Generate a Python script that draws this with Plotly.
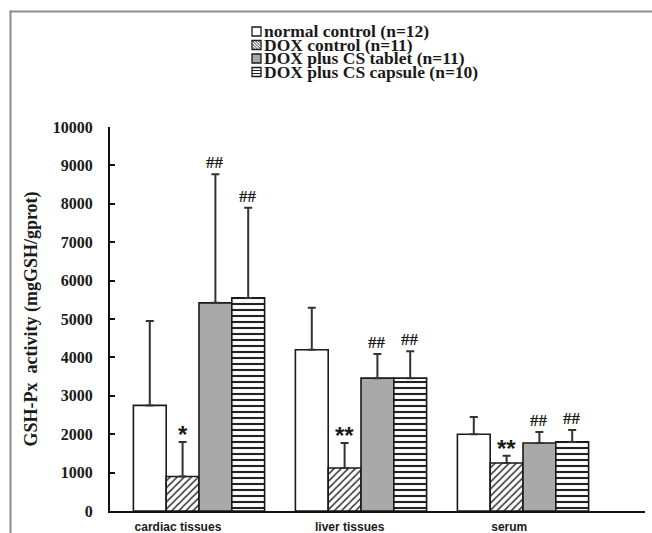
import plotly.graph_objects as go

# ---------------- data ----------------
categories = ["cardiac tissues", "liver tissues", "serum"]
series_names = ["normal control (n=12)", "DOX control (n=11)",
                "DOX plus CS tablet (n=11)", "DOX plus CS capsule (n=10)"]
normal_mean = [2750, 4200, 2000]
normal_err = [2200, 1090, 450]
dox_mean = [900, 1120, 1250]
dox_err = [900, 650, 190]
tablet_mean = [5420, 3460, 1770]
tablet_err = [3350, 630, 290]
capsule_mean = [5550, 3460, 1800]
capsule_err = [2350, 700, 310]
normal_sig = ["", "", ""]
dox_sig = ["*", "**", "**"]
tablet_sig = ["##", "##", "##"]
capsule_sig = ["##", "##", "##"]
y_ticks = [0, 1000, 2000, 3000, 4000, 5000, 6000, 7000, 8000, 9000, 10000]
y_ticktext = [str(v) for v in y_ticks]

means = [normal_mean, dox_mean, tablet_mean, capsule_mean]
errs = [normal_err, dox_err, tablet_err, capsule_err]
sigs = [normal_sig, dox_sig, tablet_sig, capsule_sig]

# ---------------- styles ----------------
DARK = "#1a1a1a"
styles = [
    dict(color="white", pattern=None),
    dict(color="white", pattern=dict(shape="/", fgcolor="#333333", bgcolor="white",
                                     size=5, solidity=0.3, fillmode="replace")),
    dict(color="#a9a9a9", pattern=None),
    dict(color="white", pattern=dict(shape="-", fgcolor="#222222", bgcolor="white",
                                     size=6, solidity=0.35, fillmode="replace")),
]

x = list(range(len(categories)))
BARGAP = 0.19
nser = len(series_names)
bw = (1 - BARGAP) / nser

fig = go.Figure()
for i in range(nser):
    marker = dict(color=styles[i]["color"], line=dict(color=DARK, width=1.6))
    if styles[i]["pattern"] is not None:
        marker["pattern"] = styles[i]["pattern"]
    fig.add_trace(go.Bar(
        x=x, y=means[i], name=series_names[i], marker=marker,
        error_y=dict(type="data", array=errs[i], arrayminus=[0] * len(x),
                     symmetric=False, color="#333333", thickness=2, width=4),
        showlegend=False,
    ))

# significance marks
annotations = []
for i in range(nser):
    for j in range(len(categories)):
        s = sigs[i][j]
        if not s:
            continue
        xpos = j + (i - (nser - 1) / 2) * bw
        if "*" in s:
            font = dict(family="Liberation Sans", size=24, color=DARK, weight="bold")
            ysh = -8
        else:
            font = dict(family="Liberation Serif", size=17, color=DARK, weight="bold")
            ysh = 0
        annotations.append(dict(x=xpos, y=means[i][j] + errs[i][j], xref="x", yref="y",
                                text=s, showarrow=False, yanchor="bottom", xanchor="center",
                                yshift=ysh, font=font))

# pixel -> paper helpers for layout decoration
PL, PR, PT, PB = 110, 645, 127, 511
W, H = 652, 533


def fx(px):
    return (px - PL) / (PR - PL)


def fy(py):
    return (PB - py) / (PB - PT)


FRAME = "#8c8c8c"
shapes = []
# outer frame strips (top and left), drawn as thin filled rectangles
shapes.append(dict(type="rect", xref="paper", yref="paper", x0=fx(9.5), x1=fx(W),
                   y0=fy(12.5), y1=fy(10.5), fillcolor=FRAME, line=dict(width=0)))
shapes.append(dict(type="rect", xref="paper", yref="paper", x0=fx(9.5), x1=fx(11.5),
                   y0=fy(H), y1=fy(10.5), fillcolor=FRAME, line=dict(width=0)))

# custom legend (icons as shapes, labels in one multi-line text)
ROW0, ROWSTEP = 31.5, 13.5
IL, ISZ = 252, 9
for k in range(nser):
    cy = ROW0 + k * ROWSTEP
    T = cy - ISZ / 2
    B = cy + ISZ / 2
    L, R = IL, IL + ISZ
    shapes.append(dict(type="rect", xref="paper", yref="paper", x0=fx(L), x1=fx(R),
                       y0=fy(B), y1=fy(T), fillcolor=styles[k]["color"],
                       line=dict(color=DARK, width=1.3)))
    pat = styles[k]["pattern"]
    if pat is not None and pat["shape"] == "/":
        for d in [3, 6, 9, 12, 15]:
            u1, u2 = max(0, d - ISZ), min(d, ISZ)
            shapes.append(dict(type="line", xref="paper", yref="paper",
                               x0=fx(L + u1), y0=fy(B - (d - u1)),
                               x1=fx(L + u2), y1=fy(B - (d - u2)),
                               line=dict(color="#333333", width=1)))
    elif pat is not None and pat["shape"] == "-":
        for v in [3, 6]:
            shapes.append(dict(type="line", xref="paper", yref="paper",
                               x0=fx(L), x1=fx(R), y0=fy(T + v), y1=fy(T + v),
                               line=dict(color="#222222", width=1)))

legend_text = "<br>".join('<span style="font-size:17.5px">%s</span>' % n for n in series_names)
annotations.append(dict(x=fx(IL + ISZ + 1), y=fy(ROW0 + ROWSTEP * (nser - 1) / 2),
                        xref="paper", yref="paper", text=legend_text, showarrow=False,
                        xanchor="left", yanchor="middle", align="left",
                        font=dict(family="Liberation Serif", size=ROWSTEP / 1.3, color=DARK,
                                  weight="bold")))

label_offsets = [-0.13, -0.07, -0.085]

fig.update_layout(
    width=W, height=H, autosize=False,
    margin=dict(l=PL, r=W - PR, t=PT, b=H - PB, pad=0),
    paper_bgcolor="white", plot_bgcolor="white",
    barmode="group", bargap=BARGAP, bargroupgap=0,
    shapes=shapes, annotations=annotations,
    xaxis=dict(range=[-(199 - PL) / 162, (PR - 199) / 162], automargin=False,
               tickvals=[j + label_offsets[j] for j in x], ticktext=categories,
               ticks="", showline=True, linecolor="#111111", linewidth=2,
               showgrid=False, zeroline=False, ticklabelstandoff=4,
               tickfont=dict(family="Liberation Sans", size=12, color=DARK, weight="bold")),
    yaxis=dict(range=[0, 10000], tickvals=y_ticks, ticktext=y_ticktext, automargin=False,
               ticks="inside", ticklen=5, tickwidth=2,
               tickcolor="#111111", showline=True, linecolor="#111111", linewidth=2,
               showgrid=False, zeroline=False, ticklabelstandoff=12,
               tickfont=dict(family="Liberation Serif", size=16, color=DARK, weight="bold"),
               title=dict(text="GSH-Px  activity (mgGSH/gprot)", standoff=10,
                          font=dict(family="Liberation Serif", size=18, color=DARK,
                                    weight="bold"))),
)

fig.write_html("out.html", config={"displayModeBar": False})
